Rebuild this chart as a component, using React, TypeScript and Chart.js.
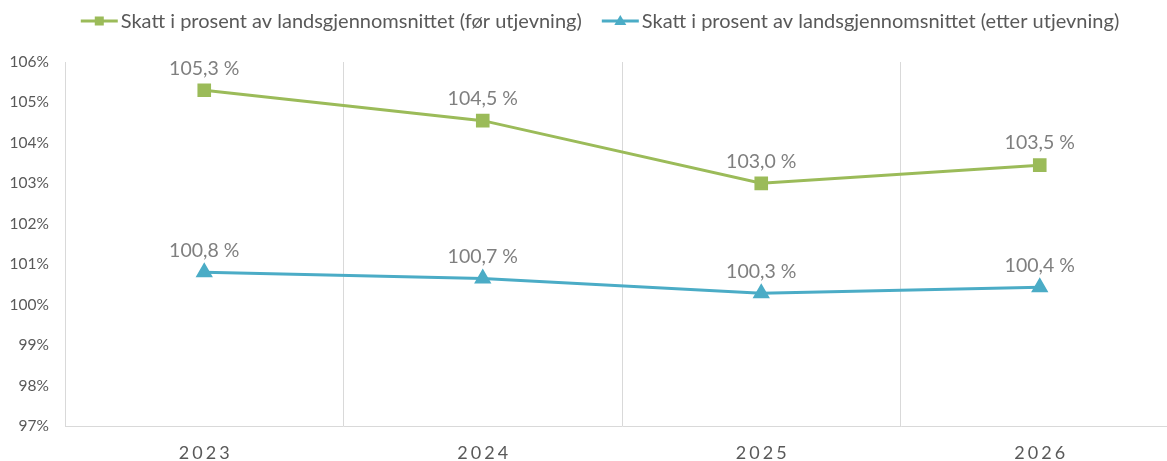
import { useEffect, useRef } from "react";
import { Chart, registerables } from "chart.js";

Chart.register(...registerables);

const years = ["2023", "2024", "2025", "2026"];
const beforeValues = [105.3, 104.55, 103.0, 103.45];
const afterValues = [100.8, 100.65, 100.28, 100.43];
const beforeLabels = ["105,3 %", "104,5 %", "103,0 %", "103,5 %"];
const afterLabels = ["100,8 %", "100,7 %", "100,3 %", "100,4 %"];
const seriesNames = [
  "Skatt i prosent av landsgjennomsnittet (før utjevning)",
  "Skatt i prosent av landsgjennomsnittet (etter utjevning)",
];
const yMin = 97;
const yMax = 106;

const GREEN = "#9BBB59";
const BLUE = "#4BACC6";
const FONT = "Lato, 'Open Sans', sans-serif";
const CANVAS_W = 1179;
const CANVAS_H = 461;

const dataLabelPlugin = {
  id: "dataLabels",
  afterDatasetsDraw(chart: any) {
    const ctx = chart.ctx;
    const sets = [beforeLabels, afterLabels];
    ctx.save();
    ctx.font = `19.5px ${FONT}`;
    ctx.fillStyle = "#7f7f7f";
    ctx.textAlign = "center";
    ctx.textBaseline = "middle";
    chart.data.datasets.forEach((_: any, di: number) => {
      const meta = chart.getDatasetMeta(di);
      meta.data.forEach((pt: any, i: number) => {
        ctx.fillText(sets[di][i], pt.x, pt.y - 22);
      });
    });
    ctx.restore();
  },
};

const xLabelPlugin = {
  id: "xLabels",
  afterDraw(chart: any) {
    const ctx = chart.ctx;
    const xs = chart.scales.x;
    ctx.save();
    ctx.font = `18px ${FONT}`;
    ctx.fillStyle = "#595959";
    ctx.textAlign = "center";
    ctx.textBaseline = "middle";
    (ctx as any).letterSpacing = "3px";
    years.forEach((y, i) => {
      ctx.fillText(y, xs.getPixelForValue(i) + 1.5, 453);
    });
    ctx.restore();
  },
};

const legendPlugin = {
  id: "customLegend",
  afterDraw(chart: any) {
    const ctx = chart.ctx;
    ctx.save();
    ctx.font = `20px ${FONT}`;
    ctx.textBaseline = "middle";
    const lineLen = 37;
    const gapText = 3;
    const gapItem = 20;
    const widths = seriesNames.map((n) => ctx.measureText(n).width);
    const total = widths.reduce((a, w) => a + lineLen + gapText + w, 0) + gapItem;
    let x = 600 - total / 2;
    const y = 21;
    const colors = [GREEN, BLUE];
    seriesNames.forEach((name, i) => {
      ctx.strokeStyle = colors[i];
      ctx.lineWidth = 3;
      ctx.beginPath();
      ctx.moveTo(x, y);
      ctx.lineTo(x + lineLen, y);
      ctx.stroke();
      ctx.fillStyle = colors[i];
      const cx = x + lineLen / 2;
      if (i === 0) {
        ctx.fillRect(cx - 4.5, y - 4.5, 9, 9);
      } else {
        ctx.beginPath();
        ctx.moveTo(cx, y - 6);
        ctx.lineTo(cx + 6, y + 4);
        ctx.lineTo(cx - 6, y + 4);
        ctx.closePath();
        ctx.fill();
      }
      ctx.fillStyle = "#595959";
      ctx.textAlign = "left";
      ctx.fillText(name, x + lineLen + gapText, y + 1);
      x += lineLen + gapText + widths[i] + gapItem;
    });
    ctx.restore();
  },
};

export default function App() {
  const canvasRef = useRef<HTMLCanvasElement | null>(null);

  useEffect(() => {
    if (!canvasRef.current) return;
    const chart = new Chart(canvasRef.current, {
      type: "line",
      data: {
        labels: years,
        datasets: [
          {
            label: seriesNames[0],
            data: beforeValues,
            borderColor: GREEN,
            backgroundColor: GREEN,
            borderWidth: 3,
            pointStyle: "rect",
            pointRadius: 7.5,
            pointHoverRadius: 7.5,
            tension: 0,
          },
          {
            label: seriesNames[1],
            data: afterValues,
            borderColor: BLUE,
            backgroundColor: BLUE,
            borderWidth: 3,
            pointStyle: "triangle",
            pointRadius: 7,
            pointHoverRadius: 7,
            tension: 0,
          },
        ],
      },
      options: {
        responsive: false,
        maintainAspectRatio: false,
        animation: false,
        events: [],
        layout: { autoPadding: false, padding: { top: 62, left: 0, right: 0, bottom: 0 } },
        plugins: {
          legend: { display: false },
          tooltip: { enabled: false },
        },
        scales: {
          x: {
            offset: true,
            grid: { display: true, offset: true, color: "#d9d9d9", lineWidth: 1, drawTicks: false },
            border: { display: true, color: "#d9d9d9", width: 1 },
            ticks: { display: false },
            afterFit: (s: any) => {
              s.height = 35;
            },
          },
          y: {
            min: yMin,
            max: yMax,
            grid: { display: false, drawTicks: false },
            border: { display: true, color: "#d9d9d9", width: 1 },
            ticks: {
              stepSize: 1,
              padding: 16,
              color: "#595959",
              font: { family: FONT, size: 15.5 },
              callback: (v: any) => `${v}%`,
            },
            afterFit: (s: any) => {
              s.width = 65;
            },
          },
        },
      },
      plugins: [dataLabelPlugin, xLabelPlugin, legendPlugin],
    });
    return () => chart.destroy();
  }, []);

  return (
    <div
      style={{
        position: "fixed",
        left: 0,
        top: 0,
        width: 1167,
        height: CANVAS_H,
        overflow: "hidden",
        background: "#fff",
      }}
    >
      <div style={{ width: CANVAS_W, height: CANVAS_H, position: "relative" }}>
        <canvas
          ref={canvasRef}
          width={CANVAS_W}
          height={CANVAS_H}
          style={{ display: "block", width: CANVAS_W, height: CANVAS_H }}
        />
      </div>
    </div>
  );
}
